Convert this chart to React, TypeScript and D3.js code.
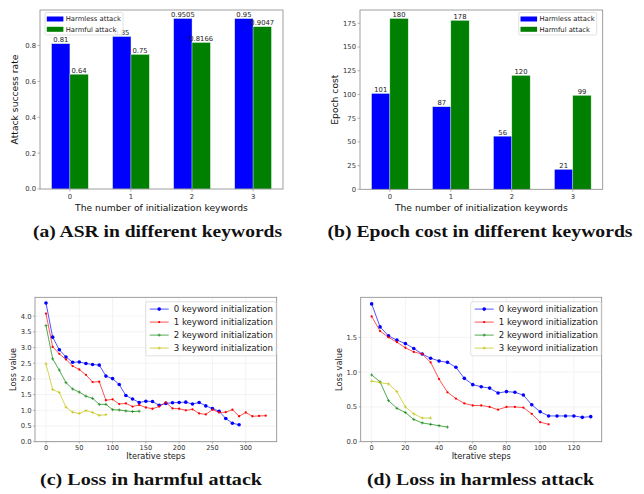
import React from 'react';
import * as d3 from 'd3';

// Bar charts: attack success rate and epoch cost per number of keywords
const keywordCats = ['0', '1', '2', '3'];
const asrHarmless = [0.81, 0.85, 0.9505, 0.95];
const asrHarmful = [0.64, 0.75, 0.8166, 0.9047];
const epochHarmless = [101, 87, 56, 21];
const epochHarmful = [180, 178, 120, 99];
const asrTicks = [0, 0.2, 0.4, 0.6, 0.8];
const epochTicks = [0, 25, 50, 75, 100, 125, 150, 175];

// Loss curves in harmful attack (one point every 10 steps)
const harmfulStep = 10;
const harmfulLoss0 = [4.42, 3.33, 2.93, 2.70, 2.53, 2.54, 2.49, 2.46, 2.44, 2.09, 2.01, 1.82, 1.47, 1.36, 1.25, 1.29, 1.28, 1.16, 1.22, 1.24, 1.25, 1.26, 1.20, 1.25, 1.14, 1.06, 0.97, 0.74, 0.59, 0.54];
const harmfulLoss1 = [4.08, 3.02, 2.80, 2.62, 2.41, 2.30, 2.13, 1.90, 1.91, 1.32, 1.35, 1.20, 1.22, 1.12, 1.17, 1.09, 1.05, 1.12, 1.25, 1.06, 1.05, 1.00, 1.03, 0.90, 0.87, 1.02, 0.93, 0.94, 1.02, 0.81, 0.93, 0.81, 0.82, 0.83];
const harmfulLoss2 = [3.70, 2.64, 2.28, 1.88, 1.68, 1.58, 1.45, 1.38, 1.19, 1.19, 1.02, 1.01, 0.98, 0.96, 0.97];
const harmfulLoss3 = [2.48, 1.66, 1.57, 1.10, 0.94, 0.90, 0.99, 0.93, 0.84, 0.86];
const harmfulXTicks = [0, 50, 100, 150, 200, 250, 300];
const harmfulYTicks = [0, 0.5, 1, 1.5, 2, 2.5, 3, 3.5, 4];

// Loss curves in harmless attack (one point every 5 steps)
const harmlessStep = 5;
const harmlessLoss0 = [1.98, 1.65, 1.52, 1.46, 1.41, 1.34, 1.26, 1.20, 1.16, 1.14, 1.07, 0.91, 0.82, 0.79, 0.77, 0.70, 0.72, 0.71, 0.67, 0.53, 0.43, 0.37, 0.37, 0.37, 0.37, 0.35, 0.36];
const harmlessLoss1 = [1.80, 1.59, 1.50, 1.43, 1.35, 1.29, 1.26, 1.14, 0.90, 0.71, 0.62, 0.55, 0.52, 0.52, 0.50, 0.46, 0.50, 0.50, 0.49, 0.40, 0.28, 0.25];
const harmlessLoss2 = [0.96, 0.86, 0.59, 0.48, 0.42, 0.32, 0.27, 0.25, 0.23, 0.21];
const harmlessLoss3 = [0.87, 0.85, 0.83, 0.72, 0.50, 0.40, 0.34, 0.34];
const harmlessXTicks = [0, 20, 40, 60, 80, 100, 120];
const harmlessYTicks = [0, 0.5, 1, 1.5];

const barLabels = ['Harmless attack', 'Harmful attack'];
const barColors = ['#0000ff', '#008000'];
const lineLabels = ['0 keyword initialization', '1 keyword initialization', '2 keyword initialization', '3 keyword initialization'];
const lineColors = ['#0000ff', '#ff0000', '#008000', '#bfbf00'];
const lineMarkers = ['circle', 'dot', 'plus', 'plus'];

const SANS = 'DejaVu Sans, sans-serif';
const FRAME = '#888888';
const TICKTXT = '#333333';

interface Box { left: number; right: number; top: number; bottom: number; }

const Marker = ({ kind, x, y, color }: { kind: string; x: number; y: number; color: string }) => {
  if (kind === 'circle') return <circle cx={x} cy={y} r={1.8} fill={color} />;
  if (kind === 'dot') return <circle cx={x} cy={y} r={1.15} fill={color} />;
  return (
    <path d={`M${x - 1.6},${y}H${x + 1.6}M${x},${y - 1.6}V${y + 1.6}`} stroke={color} strokeWidth={0.6} />
  );
};

const BarPanel = ({ box, series, yMax, yTicks, yLabel, tickFmt, legendLeft }: {
  box: Box; series: number[][]; yMax: number; yTicks: number[]; yLabel: string;
  tickFmt: (v: number) => string; legendLeft: boolean;
}) => {
  const x = d3.scaleLinear().domain([-0.49, 3.49]).range([box.left, box.right]);
  const y = d3.scaleLinear().domain([0, yMax]).range([box.bottom, box.top]);
  const bw = x(0.3) - x(0);
  const lx = legendLeft ? box.left + 5 : box.right - 84;
  return (
    <g>
      {series.map((vals, s) =>
        vals.map((v, i) => {
          const cx = x(i + (s === 0 ? -0.15 : 0.15));
          return (
            <g key={`${s}-${i}`}>
              <rect x={cx - bw / 2} y={y(v)} width={bw} height={y(0) - y(v)} fill={barColors[s]}
                stroke="#d8ecd8" strokeWidth={0.4} />
              <text x={cx} y={y(v) - 1.5} textAnchor="middle" fontSize={6.8} fontFamily={SANS} fill="#222">{String(v)}</text>
            </g>
          );
        })
      )}
      <rect x={box.left} y={box.top} width={box.right - box.left} height={box.bottom - box.top}
        fill="none" stroke={FRAME} strokeWidth={0.8} />
      {yTicks.map(t => (
        <g key={t}>
          <line x1={box.left - 2.5} x2={box.left} y1={y(t)} y2={y(t)} stroke={FRAME} strokeWidth={0.6} />
          <text x={box.left - 4} y={y(t) + 2.4} textAnchor="end" fontSize={6.8} fontFamily={SANS} fill={TICKTXT}>{tickFmt(t)}</text>
        </g>
      ))}
      {keywordCats.map((c, i) => (
        <g key={c}>
          <line x1={x(i)} x2={x(i)} y1={box.bottom} y2={box.bottom + 2.5} stroke={FRAME} strokeWidth={0.6} />
          <text x={x(i)} y={box.bottom + 10} textAnchor="middle" fontSize={6.8} fontFamily={SANS} fill={TICKTXT}>{c}</text>
        </g>
      ))}
      <text x={(box.left + box.right) / 2} y={box.bottom + 22} textAnchor="middle" fontSize={9.2} fontFamily={SANS} fill="#111">
        The number of initialization keywords
      </text>
      <text transform={`translate(${box.left - 22},${(box.top + box.bottom) / 2}) rotate(-90)`} textAnchor="middle"
        fontSize={9.2} fontFamily={SANS} fill="#111">{yLabel}</text>
      <g transform={`translate(${lx},${box.top + 2.5})`}>
        <rect x={0} y={0} width={78} height={22.5} rx={1.5} fill="white" fillOpacity={0.8} stroke="#cccccc" strokeWidth={0.6} />
        {barLabels.map((l, k) => (
          <g key={l} transform={`translate(0,${6.5 + k * 10.3})`}>
            <rect x={1.8} y={-2.5} width={16.6} height={5} fill={barColors[k]} />
            <text x={20.7} y={2.4} fontSize={6.8} fontFamily={SANS} fill="#222">{l}</text>
          </g>
        ))}
      </g>
    </g>
  );
};

const LinePanel = ({ box, curves, step, xMin, xMax, yMax, xTicks, yTicks }: {
  box: Box; curves: number[][]; step: number; xMin: number; xMax: number; yMax: number;
  xTicks: number[]; yTicks: number[];
}) => {
  const x = d3.scaleLinear().domain([xMin, xMax]).range([box.left, box.right]);
  const y = d3.scaleLinear().domain([0, yMax]).range([box.bottom, box.top]);
  const line = d3.line<number>().x((_, i) => x(i * step)).y(v => y(v));
  const lx = box.right - 131;
  return (
    <g>
      {xTicks.map(t => (
        <line key={`gx${t}`} x1={x(t)} x2={x(t)} y1={box.top} y2={box.bottom} stroke="#e6e6e6" strokeWidth={0.5} />
      ))}
      {yTicks.map(t => (
        <line key={`gy${t}`} x1={box.left} x2={box.right} y1={y(t)} y2={y(t)} stroke="#e6e6e6" strokeWidth={0.5} />
      ))}
      {curves.map((vals, s) => (
        <g key={s}>
          <path d={line(vals) || ''} fill="none" stroke={lineColors[s]} strokeOpacity={0.75} strokeWidth={0.9} />
          {vals.map((v, i) => (
            <Marker key={i} kind={lineMarkers[s]} x={x(i * step)} y={y(v)} color={lineColors[s]} />
          ))}
        </g>
      ))}
      <rect x={box.left} y={box.top} width={box.right - box.left} height={box.bottom - box.top}
        fill="none" stroke={FRAME} strokeWidth={0.8} />
      {yTicks.map(t => (
        <g key={t}>
          <line x1={box.left - 2} x2={box.left} y1={y(t)} y2={y(t)} stroke={FRAME} strokeWidth={0.6} />
          <text x={box.left - 3.5} y={y(t) + 2.4} textAnchor="end" fontSize={6.8} fontFamily={SANS} fill={TICKTXT}>{t.toFixed(1)}</text>
        </g>
      ))}
      {xTicks.map(t => (
        <g key={t}>
          <line x1={x(t)} x2={x(t)} y1={box.bottom} y2={box.bottom + 1.8} stroke={FRAME} strokeWidth={0.6} />
          <text x={x(t)} y={box.bottom + 8} textAnchor="middle" fontSize={6.6} fontFamily={SANS} fill={TICKTXT}>{t}</text>
        </g>
      ))}
      <text x={(box.left + box.right) / 2} y={box.bottom + 16.8} textAnchor="middle" fontSize={8.2} fontFamily={SANS} fill="#222">
        Iterative steps
      </text>
      <text transform={`translate(${box.left - 19},${(box.top + box.bottom) / 2}) rotate(-90)`} textAnchor="middle"
        fontSize={8.2} fontFamily={SANS} fill="#222">Loss value</text>
      <g transform={`translate(${lx},${box.top + 4.5})`}>
        <rect x={0} y={0} width={130.5} height={54} rx={1.5} fill="white" fillOpacity={0.8} stroke="#cccccc" strokeWidth={0.6} />
        {lineLabels.map((l, k) => (
          <g key={l} transform={`translate(0,${7.3 + k * 13})`}>
            <line x1={4} x2={23} y1={0} y2={0} stroke={lineColors[k]} strokeOpacity={0.75} strokeWidth={0.9} />
            <Marker kind={lineMarkers[k]} x={13.5} y={0} color={lineColors[k]} />
            <text x={28} y={3} fontSize={8.6} fontFamily={SANS} fill="#222">{l}</text>
          </g>
        ))}
      </g>
    </g>
  );
};

const Caption = ({ x, y, w, text }: { x: number; y: number; w: number; text: string }) => (
  <text x={x} y={y} textAnchor="middle" fontSize={16.5} fontWeight="bold" fontFamily="Liberation Serif, serif"
    fill="#111" textLength={w} lengthAdjust="spacingAndGlyphs">{text}</text>
);

export default function App() {
  return (
    <svg width={644} height={494} style={{ position: 'absolute', left: 0, top: 0, background: 'white' }}>
      <BarPanel box={{ left: 40, right: 283, top: 10, bottom: 189 }} series={[asrHarmless, asrHarmful]} yMax={0.998}
        yTicks={asrTicks} yLabel="Attack success rate" tickFmt={v => v.toFixed(1)} legendLeft={true} />
      <BarPanel box={{ left: 360, right: 602.7, top: 10, bottom: 189.3 }} series={[epochHarmless, epochHarmful]} yMax={189}
        yTicks={epochTicks} yLabel="Epoch cost" tickFmt={v => String(v)} legendLeft={false} />
      <LinePanel box={{ left: 35, right: 276.7, top: 297.3, bottom: 441.7 }}
        curves={[harmfulLoss0, harmfulLoss1, harmfulLoss2, harmfulLoss3]} step={harmfulStep}
        xMin={-16.5} xMax={346.5} yMax={4.6} xTicks={harmfulXTicks} yTicks={harmfulYTicks} />
      <LinePanel box={{ left: 360.7, right: 601.7, top: 297.3, bottom: 441.7 }}
        curves={[harmlessLoss0, harmlessLoss1, harmlessLoss2, harmlessLoss3]} step={harmlessStep}
        xMin={-6.5} xMax={136.5} yMax={2.075} xTicks={harmlessXTicks} yTicks={harmlessYTicks} />
      <Caption x={157.5} y={237} w={249} text="(a) ASR in different keywords" />
      <Caption x={480} y={237} w={305} text="(b) Epoch cost in different keywords" />
      <Caption x={151} y={485} w={222} text="(c) Loss in harmful attack" />
      <Caption x={480.5} y={485} w={227} text="(d) Loss in harmless attack" />
    </svg>
  );
}
